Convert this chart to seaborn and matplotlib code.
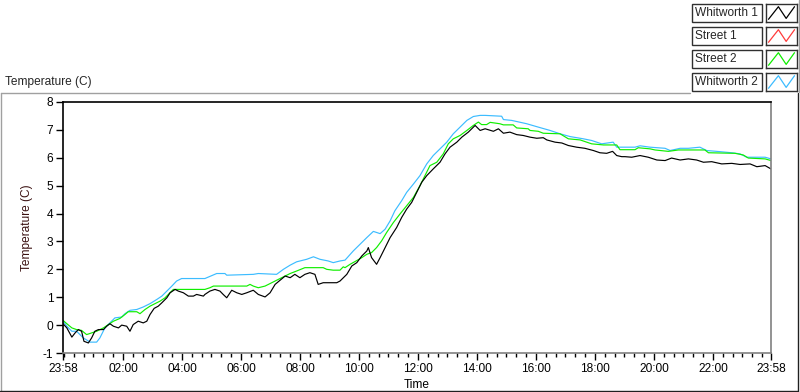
import numpy as np
import pandas as pd
import matplotlib
matplotlib.use("Agg")
import matplotlib.pyplot as plt
import seaborn as sns
from matplotlib.lines import Line2D
from matplotlib.patches import Rectangle
from matplotlib.ticker import FixedLocator

# ---------------- data (hours after 23:58, temperature in C) ----------------
series_names = ["Whitworth 1", "Street 1", "Street 2", "Whitworth 2"]
series_colors = ["#000000", "#ff3b3b", "#10ee00", "#3cbcff"]

whit1_t = [0.00, 0.13, 0.30, 0.41, 0.52, 0.63, 0.71, 0.86, 0.97, 1.08, 1.20, 1.37, 1.48, 1.59,
           1.71, 1.88, 1.99, 2.16, 2.27, 2.38, 2.55, 2.72, 2.84, 2.95, 3.09, 3.23, 3.35, 3.52,
           3.63, 3.80, 3.91, 4.08, 4.25, 4.42, 4.53, 4.76, 4.81, 4.98, 5.15, 5.32, 5.43, 5.55,
           5.72, 5.89, 6.06, 6.23, 6.45, 6.62, 6.85, 7.02, 7.19, 7.36, 7.53, 7.70, 7.86, 8.03,
           8.20, 8.37, 8.54, 8.65, 8.82, 9.05, 9.28, 9.39, 9.56, 9.62, 9.79, 9.96, 10.13, 10.30,
           10.35, 10.46, 10.63, 10.75, 10.92, 11.09, 11.31, 11.48, 11.65, 11.82, 11.99, 12.16,
           12.33, 12.55, 12.78, 12.95, 13.12, 13.35, 13.52, 13.74, 13.97, 14.14, 14.31, 14.59,
           14.76, 14.93, 15.15, 15.38, 15.60, 15.83, 16.06, 16.28, 16.40, 16.68, 16.91, 17.13,
           17.41, 17.69, 17.98, 18.20, 18.43, 18.63, 18.77, 18.94, 19.05, 19.28, 19.56, 19.84,
           20.13, 20.41, 20.63, 20.92, 21.20, 21.48, 21.71, 21.99, 22.33, 22.67, 22.95, 23.29,
           23.52, 23.80, 24.00]
whit1_T = [0.05, -0.10, -0.43, -0.28, -0.16, -0.22, -0.58, -0.64, -0.46, -0.22, -0.16, -0.16,
           -0.04, 0.05, -0.04, -0.10, 0.00, -0.04, -0.22, 0.02, 0.14, 0.08, 0.14, 0.38, 0.60,
           0.68, 0.80, 0.98, 1.16, 1.28, 1.22, 1.16, 1.04, 1.04, 1.10, 1.04, 1.10, 1.22, 1.28,
           1.22, 1.10, 0.98, 1.25, 1.16, 1.10, 1.16, 1.25, 1.10, 1.01, 1.16, 1.46, 1.61, 1.76,
           1.70, 1.82, 1.70, 1.82, 1.88, 1.82, 1.46, 1.52, 1.52, 1.52, 1.58, 1.76, 1.82, 2.12,
           2.24, 2.48, 2.66, 2.78, 2.42, 2.18, 2.42, 2.78, 3.14, 3.50, 3.86, 4.16, 4.40, 4.76,
           5.12, 5.36, 5.60, 5.84, 6.14, 6.38, 6.56, 6.74, 6.92, 7.16, 6.98, 7.04, 6.95, 7.04,
           6.88, 6.92, 6.83, 6.80, 6.74, 6.70, 6.72, 6.64, 6.56, 6.53, 6.44, 6.38, 6.34, 6.26,
           6.18, 6.16, 6.23, 6.08, 6.04, 6.04, 6.02, 6.08, 6.02, 5.92, 5.90, 5.99, 5.92, 5.96,
           5.92, 5.84, 5.86, 5.78, 5.80, 5.76, 5.78, 5.68, 5.72, 5.60]

street1_t = []
street1_T = []

street2_t = [0.00, 0.13, 0.30, 0.46, 0.63, 0.80, 0.97, 1.14, 1.37, 1.54, 1.71, 1.93, 2.10, 2.21,
             2.50, 2.61, 2.78, 2.95, 3.12, 3.29, 3.46, 3.57, 3.74, 3.91, 4.81, 4.98, 5.10, 6.23,
             6.34, 6.45, 6.62, 6.85, 7.02, 7.30, 7.53, 7.70, 7.92, 8.20, 8.82, 8.94, 9.16, 9.39,
             9.50, 9.56, 9.73, 9.90, 10.13, 10.30, 10.46, 10.63, 10.80, 10.97, 11.20, 11.42,
             11.65, 11.88, 12.10, 12.27, 12.44, 12.67, 12.89, 13.06, 13.23, 13.46, 13.69, 13.91,
             14.08, 14.19, 14.36, 14.48, 14.81, 14.93, 15.26, 15.38, 15.77, 15.83, 16.11, 16.28,
             16.85, 17.13, 17.53, 17.92, 18.32, 18.77, 18.88, 19.39, 19.50, 19.90, 20.07, 20.52,
             20.86, 21.76, 21.88, 22.78, 23.06, 23.23, 23.80, 24.00]
street2_T = [0.17, 0.05, -0.10, -0.16, -0.19, -0.34, -0.28, -0.22, -0.10, 0.02, 0.14, 0.24, 0.38,
             0.48, 0.48, 0.41, 0.56, 0.68, 0.77, 0.86, 0.98, 1.10, 1.28, 1.28, 1.28, 1.34, 1.40,
             1.40, 1.46, 1.40, 1.34, 1.40, 1.49, 1.64, 1.76, 1.85, 1.94, 2.06, 2.06, 2.00, 1.97,
             1.97, 2.09, 2.06, 2.18, 2.28, 2.42, 2.54, 2.60, 2.78, 3.02, 3.32, 3.68, 3.98, 4.28,
             4.58, 5.00, 5.36, 5.72, 5.84, 6.14, 6.50, 6.68, 6.80, 6.98, 7.16, 7.28, 7.19, 7.19,
             7.27, 7.22, 7.18, 7.18, 7.07, 7.04, 6.98, 6.95, 6.88, 6.86, 6.68, 6.64, 6.50, 6.46,
             6.46, 6.29, 6.29, 6.36, 6.32, 6.28, 6.23, 6.28, 6.28, 6.18, 6.16, 6.10, 5.99, 5.96,
             5.90]

whit2_t = [0.00, 0.13, 0.30, 0.46, 0.69, 0.92, 1.14, 1.25, 1.42, 1.59, 1.76, 1.99, 2.10, 2.27,
           2.50, 2.72, 2.95, 3.18, 3.35, 3.52, 3.69, 3.85, 4.02, 4.81, 5.21, 5.49, 5.55, 6.45,
           6.62, 7.24, 7.47, 7.70, 7.92, 8.26, 8.49, 8.71, 8.99, 9.16, 9.39, 9.56, 9.62, 9.84,
           10.07, 10.30, 10.52, 10.75, 10.92, 11.09, 11.25, 11.48, 11.65, 11.88, 12.10, 12.33,
           12.55, 12.78, 13.01, 13.23, 13.46, 13.69, 13.91, 14.14, 14.31, 14.87, 14.93, 15.21,
           15.72, 16.11, 16.51, 16.85, 17.19, 17.64, 17.92, 18.26, 18.65, 18.77, 19.39, 19.56,
           19.90, 20.41, 20.58, 20.92, 21.20, 21.59, 21.82, 22.27, 22.67, 22.95, 23.18, 23.80,
           24.00]
whit2_T = [0.14, -0.04, -0.22, -0.22, -0.46, -0.61, -0.61, -0.46, -0.10, 0.08, 0.26, 0.29, 0.41,
           0.53, 0.56, 0.65, 0.77, 0.92, 1.04, 1.22, 1.40, 1.58, 1.67, 1.67, 1.85, 1.85, 1.79,
           1.82, 1.85, 1.82, 2.00, 2.15, 2.27, 2.36, 2.45, 2.36, 2.30, 2.24, 2.30, 2.33, 2.40,
           2.66, 2.90, 3.14, 3.36, 3.28, 3.44, 3.74, 4.10, 4.46, 4.76, 5.06, 5.36, 5.78, 6.08,
           6.32, 6.56, 6.86, 7.10, 7.34, 7.48, 7.52, 7.52, 7.49, 7.37, 7.34, 7.22, 7.10, 6.98,
           6.86, 6.76, 6.68, 6.62, 6.50, 6.56, 6.38, 6.38, 6.43, 6.38, 6.34, 6.26, 6.34, 6.34,
           6.38, 6.26, 6.22, 6.18, 6.14, 6.02, 6.02, 5.96]

x_tick_labels = ["23:58", "02:00", "04:00", "06:00", "08:00", "10:00", "12:00",
                 "14:00", "16:00", "18:00", "20:00", "22:00", "23:58"]
y_ticks = [-1, 0, 1, 2, 3, 4, 5, 6, 7, 8]
start_label = "23:58"

# ---------------- style ----------------
sns.set_style("white")
plt.rcParams["font.family"] = ["Liberation Sans", "DejaVu Sans"]
FS = 8.6

W, H = 800, 392


def fx(x):
    return x / W


def fy(y):
    return 1 - y / H


frames = []
for name, t, T in zip(series_names,
                      [whit1_t, street1_t, street2_t, whit2_t],
                      [whit1_T, street1_T, street2_T, whit2_T]):
    frames.append(pd.DataFrame({"t": t, "T": T, "series": name}))
df = pd.concat([f for f in frames if len(f)], ignore_index=True)
palette = dict(zip(series_names, series_colors))

fig = plt.figure(figsize=(W / 100, H / 100), dpi=100)
fig.patch.set_facecolor("white")
ax = fig.add_axes([fx(63), fy(353), 708 / W, 251 / H])

# draw back-to-front: blue, green, red, black on top
for name in reversed(series_names):
    sub = df[df["series"] == name]
    if len(sub) == 0:
        continue
    sns.lineplot(data=sub, x="t", y="T", color=palette[name], estimator=None,
                 sort=False, lw=0.85, ax=ax, legend=False)

ax.set_xlim(0, 24)
ax.set_ylim(-1, 8)


def label_to_hours(lbl, i):
    if i == len(x_tick_labels) - 1:
        return 24.0
    hh, mm = map(int, lbl.split(":"))
    sh, sm = map(int, start_label.split(":"))
    return ((hh * 60 + mm - (sh * 60 + sm)) % 1440) / 60.0


xt = [label_to_hours(l, i) for i, l in enumerate(x_tick_labels)]
ax.set_xticks(xt)
ax.set_xticklabels(x_tick_labels, fontsize=FS)
ax.xaxis.set_minor_locator(FixedLocator(np.arange(2 / 60, 24, 1 / 3)))
ax.set_yticks(y_ticks)
ax.set_yticklabels([str(v) for v in y_ticks], fontsize=FS)

ax.tick_params(axis="both", which="major", direction="out", length=5, width=1,
               color="black", pad=2, labelcolor="black")
ax.tick_params(axis="x", which="minor", direction="out", length=3, width=1, color="black")
ax.tick_params(bottom=True, left=True, which="both")
ax.tick_params(axis="y", which="minor", left=False)

for side in ["left", "top"]:
    ax.spines[side].set_color("black")
    ax.spines[side].set_linewidth(1.2)
for side in ["right", "bottom"]:
    ax.spines[side].set_color("#808080")
    ax.spines[side].set_linewidth(1.2)

ax.set_xlabel("Time", fontsize=FS, color="black", labelpad=3)
ax.set_ylabel("Temperature (C)", fontsize=FS, color="#3a1010")
ax.yaxis.set_label_coords(-(63 - 33) / 708, 0.5)
ax.grid(False)

# chart caption above frame
fig.text(fx(5), fy(82), "Temperature (C)", fontsize=FS, va="center", ha="left")

# outer frame lines
def fline(x0, y0, x1, y1, color, lw=1.0):
    fig.add_artist(Line2D([fx(x0), fx(x1)], [fy(y0), fy(y1)], transform=fig.transFigure,
                          color=color, lw=lw))


fline(0.5, 93, 690, 93, "#a0a0a0")
fline(0.5, 93, 0.5, 391, "#a0a0a0")
fline(0, 390.5, 798, 390.5, "#202020")
fline(797.5, 93, 797.5, 391, "#202020")
fline(799, 0, 799, 92, "#a0a0a0")

# legend (LabVIEW-style plot legend)
for i, name in enumerate(series_names):
    y0 = 4 + 23 * i
    fig.add_artist(Rectangle((fx(692), fy(y0 + 18)), 70 / W, 18 / H, transform=fig.transFigure,
                             facecolor="white", edgecolor="#303030", lw=1.0))
    fig.text(fx(695), fy(y0 + 9), name, fontsize=FS, va="center", ha="left")
    sax = fig.add_axes([fx(766), fy(y0 + 18), 31 / W, 18 / H])
    sax.set_xlim(0, 1)
    sax.set_ylim(0, 1)
    sax.plot([0.08, 0.4, 0.65, 0.92], [0.15, 0.85, 0.2, 0.85], color=series_colors[i], lw=0.9)
    sax.set_xticks([])
    sax.set_yticks([])
    for s in sax.spines.values():
        s.set_color("#303030")
        s.set_linewidth(1.0)

fig.savefig("out.png", dpi=100)
